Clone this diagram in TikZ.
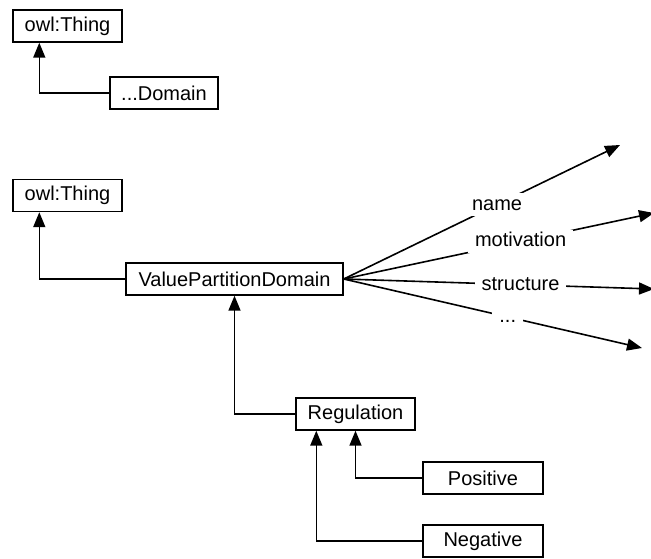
\documentclass[tikz,border=0pt]{standalone}
\usepackage{fontspec}
\setmainfont{Liberation Sans}
\usetikzlibrary{arrows.meta,calc}
\tikzset{
  cls/.style={draw, line width=1.4pt, fill=white, inner sep=0pt,
    minimum height=32pt, font=\fontsize{20}{24}\selectfont},
  isa/.style={line width=1.6pt, -{Triangle[length=15pt,width=12pt]}},
  prop/.style={line width=1.6pt, -{Triangle[length=15pt,width=12pt]}},
  plabel/.style={fill=white, inner xsep=7pt, inner ysep=2pt,
    text height=15pt, text depth=4pt, font=\fontsize{20}{24}\selectfont}
}
\begin{document}
\begin{tikzpicture}[x=1pt,y=-1pt]
\useasboundingbox (0,0) rectangle (651,558);

% class boxes
\node[cls, minimum width=109pt] (t1)  at (67.5,26)   {owl:Thing};
\node[cls, minimum width=108pt] (dom) at (164,93)    {...Domain};
\node[cls, minimum width=109pt] (t2)  at (67.5,195.5){owl:Thing};
\node[cls, minimum width=217pt] (vpd) at (234.5,279) {ValuePartitionDomain};
\node[cls, minimum width=119pt] (reg) at (355.5,414) {Regulation};
\node[cls, minimum width=120pt] (pos) at (483,478)   {Positive};
\node[cls, minimum width=120pt] (neg) at (483,541)   {Negative};

% subclass links
\draw[isa] (dom.west) -| ([xshift=27pt]t1.south west);
\draw[isa] (vpd.west) -| ([xshift=27pt]t2.south west);
\draw[isa] (reg.west) -| (vpd.south);
\draw[isa] (pos.west) -| (reg.south);
\draw[isa] (neg.west) -| ([xshift=21pt]reg.south west);

% property ends
\coordinate (pname)   at (620,145);
\coordinate (pmotiv)  at (654,213);
\coordinate (pstruct) at (654,289);
\coordinate (pmore)   at (642,348);

% properties
\draw[prop] (vpd.east) -- node[plabel, pos=0.555] {name} (pname);
\draw[prop] (vpd.east) -- node[plabel, pos=0.57] {motivation} (pmotiv);
\draw[prop] (vpd.east) -- node[plabel, pos=0.57] {structure} (pstruct);
\draw[prop] (vpd.east) -- node[plabel, pos=0.55] {...} (pmore);
\end{tikzpicture}
\end{document}
